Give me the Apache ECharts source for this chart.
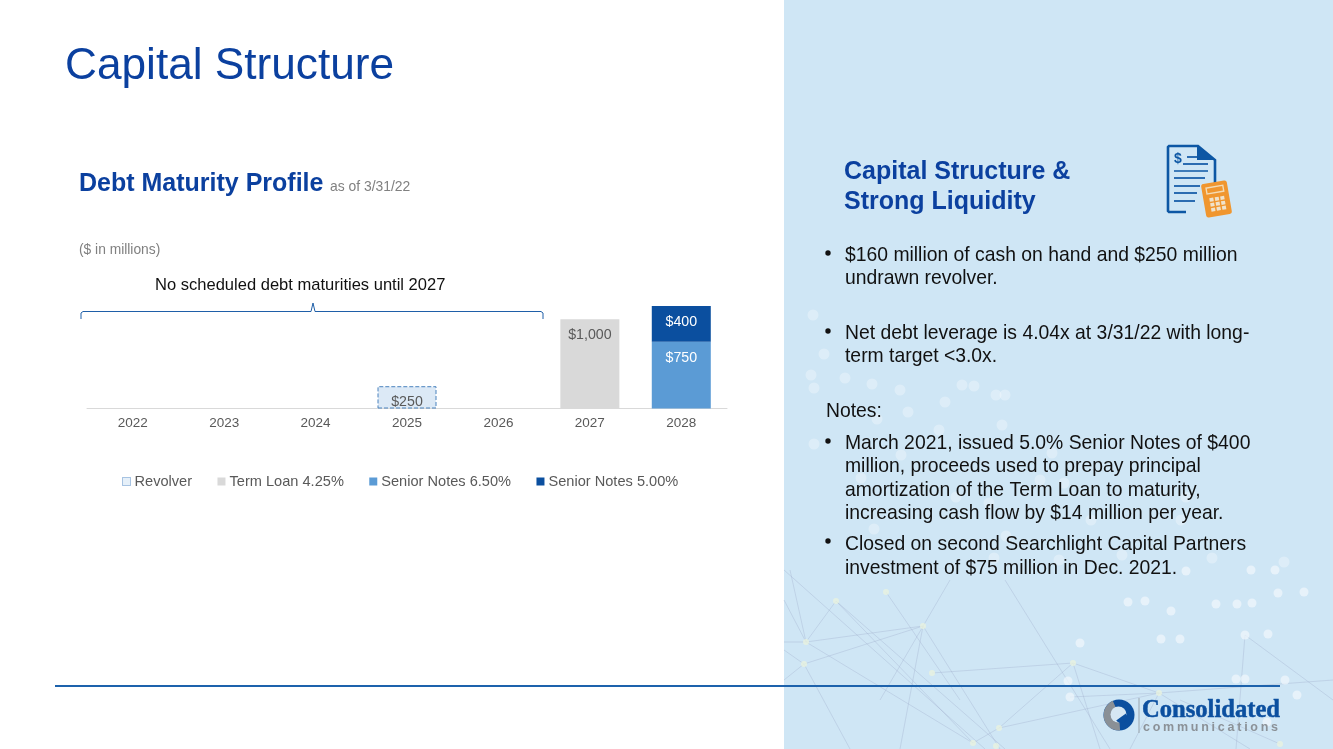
<!DOCTYPE html>
<html><head><meta charset="utf-8">
<script src="https://cdn.jsdelivr.net/npm/echarts@6/dist/echarts.min.js"></script>
<style>html,body{margin:0;padding:0;background:#fff;overflow:hidden}
#c{position:absolute;left:0;top:0;width:1333px;height:749px}
#logoSub{position:absolute;left:1143px;top:720px;font:bold 12.5px "Liberation Sans";letter-spacing:2.75px;color:#8b9197;white-space:nowrap}</style>
</head><body><div id="c"></div><div id="logoSub">communications</div>
<script>
const categories=['2022','2023','2024','2025','2026','2027','2028'];
const revolver=[null,null,null,250,null,null,null];
const termLoan=[null,null,null,null,null,1000,null];
const notes650=[null,null,null,null,null,null,750];
const notes500=[null,null,null,null,null,null,400];

const F='"Liberation Sans", Arial, sans-serif';
const BLUE='#0b409f';
const nodeDots=[[836,601],[886,592],[923,626],[806,642],[804,664],[932,673],[1073,663],[1159,693],[999,728],[973,743],[996,746],[1280,744]];
const softDots=[[1128,602],[1171,611],[1216,604],[1252,603],[1278,593],[1251,570],[1186,571],[1080,643],[1161,639],[1245,635],[1068,681],[1070,697],[1236,679],[1245,679],[1297,695],[1267,722],[1275,570],[1304,592],[1145,601],[1237,604],[1180,639],[1268,634],[1285,680]];
const faintDots=[[813,315],[824,354],[811,375],[814,388],[845,378],[872,384],[962,385],[996,395],[945,402],[908,412],[877,419],[1002,425],[939,430],[814,444],[1052,453],[901,455],[861,478],[956,497],[989,503],[1091,520],[1181,520],[1186,497],[1064,483],[874,529],[1006,536],[994,558],[1059,560],[1122,555],[1212,558],[1284,562],[1005,395],[974,386],[1040,480],[900,390]];
const netLines=[[806,642,923,626],[806,642,973,743],[804,664,923,626],[836,601,806,642],[806,642,790,570],[836,601,973,743],[836,601,1005,749],[784,570,985,749],[923,626,900,749],[923,626,1000,749],[804,664,784,680],[804,664,850,749],[806,642,784,642],[932,673,1073,663],[1073,663,999,728],[1073,663,1159,693],[1159,693,999,728],[1070,697,1159,693],[999,728,973,743],[1159,693,1250,749],[1159,693,1130,749],[1245,635,1236,749],[1159,693,1333,680],[886,592,960,700],[950,580,880,700],[1005,580,1110,749],[1245,635,1333,700],[1073,663,1100,749],[1280,744,1180,700],[784,650,804,664],[784,600,806,642]];

const deco=[];
deco.push({type:'rect',silent:true,shape:{x:784,y:0,width:549,height:749},style:{fill:'#cfe6f5'}});
netLines.forEach(l=>deco.push({type:'line',silent:true,shape:{x1:l[0],y1:l[1],x2:l[2],y2:l[3]},style:{stroke:'rgba(160,176,205,0.36)',lineWidth:1}}));
faintDots.forEach(d=>deco.push({type:'circle',silent:true,shape:{cx:d[0],cy:d[1],r:5.5},style:{fill:'rgba(255,255,255,0.3)'}}));
softDots.forEach(d=>deco.push({type:'circle',silent:true,shape:{cx:d[0],cy:d[1],r:4.5},style:{fill:'rgba(240,247,252,0.72)'}}));
nodeDots.forEach(d=>deco.push({type:'circle',silent:true,shape:{cx:d[0],cy:d[1],r:3},style:{fill:'rgba(232,243,224,0.8)'}}));

function txt(x,y,s,size,color,weight){return {type:'text',silent:true,x:x,y:y,style:{text:s,fontFamily:F,fontSize:size,fill:color,fontWeight:weight||'normal',textAlign:'left',textVerticalAlign:'middle'}};}
const B=19.35;
const texts=[
 txt(65,67,'Capital Structure',44.2,BLUE),
 txt(79,184,'Debt Maturity Profile',25,BLUE,'bold'),
 txt(330,187,'as of 3/31/22',13.9,'#808080'),
 txt(79,250,'($ in millions)',13.8,'#808080'),
 txt(155,285,'No scheduled debt maturities until 2027',16.55,'#111'),
 txt(844,172,'Capital Structure &',25,BLUE,'bold'),
 txt(844,202,'Strong Liquidity',25,BLUE,'bold'),
 txt(845,256,'$160 million of cash on hand and $250 million',B,'#111'),
 txt(845,279,'undrawn revolver.',B,'#111'),
 txt(845,334,'Net debt leverage is 4.04x at 3/31/22 with long-',B,'#111'),
 txt(845,357,'term target <3.0x.',B,'#111'),
 txt(826,412,'Notes:',B,'#111'),
 txt(845,444,'March 2021, issued 5.0% Senior Notes of $400',B,'#111'),
 txt(845,467,'million, proceeds used to prepay principal',B,'#111'),
 txt(845,491,'amortization of the Term Loan to maturity,',B,'#111'),
 txt(845,514,'increasing cash flow by $14 million per year.',B,'#111'),
 txt(845,545,'Closed on second Searchlight Capital Partners',B,'#111'),
 txt(845,569,'investment of $75 million in Dec. 2021.',B,'#111')
];
const bullets=[[828,253],[828,331],[828,441],[828,541]].map(b=>({type:'circle',silent:true,shape:{cx:b[0],cy:b[1],r:2.7},style:{fill:'#111'}}));

const brace={type:'polyline',silent:true,shape:{points:[[81,319],[81,313],[83,311.5],[311,311.5],[313,303],[315,311.5],[541,311.5],[543,313],[543,319]]},style:{stroke:'#1f5fa8',lineWidth:1,fill:'none'}};
const rule={type:'line',silent:true,shape:{x1:55,y1:686,x2:1280,y2:686},style:{stroke:'#1d62ac',lineWidth:2}};

const D='#0d57a4';
function lin(x1,y1,x2,y2,w){return {type:'line',silent:true,shape:{x1,y1,x2,y2},style:{stroke:D,lineWidth:w||1.7}};}
const CALC=0.17;
const keypad=[];
[0,1,2].forEach(c=>[0,1,2].forEach(r=>keypad.push({type:'rect',silent:true,x:1217,y:199,rotation:CALC,shape:{x:-7.5+c*5.5,y:-2+r*5,width:4,height:3.6},style:{fill:'#f0e3cc'}})));
const icon=[
 {type:'polyline',silent:true,shape:{points:[[1186,212],[1169,212],[1168,211],[1168,147],[1169,146],[1198,146],[1215,160],[1215,184]]},style:{stroke:D,lineWidth:2.6,fill:'none'}},
 {type:'polygon',silent:true,shape:{points:[[1197,146],[1215,160],[1197,160]]},style:{fill:D}},
 {type:'text',silent:true,x:1174,y:159,style:{text:'$',fontFamily:F,fontWeight:'bold',fontSize:14,fill:D,textVerticalAlign:'middle'}},
 lin(1187,157,1197,157),lin(1183,164,1208,164),lin(1174,171,1208,171),lin(1174,178,1205,178),lin(1174,186,1200,186),lin(1174,193,1197,193),lin(1174,201,1195,201),
 {type:'rect',silent:true,x:1216.5,y:199,rotation:CALC,shape:{x:-13,y:-17,width:26,height:34,r:2.5},style:{fill:'#f0962f'}},
 {type:'rect',silent:true,x:1216.5,y:199,rotation:CALC,shape:{x:-8.5,y:-12.5,width:17,height:6},style:{fill:'#f0962f',stroke:'#f3dcb6',lineWidth:1.4}}
].concat(keypad);
const logo=[
 {type:'circle',silent:true,shape:{cx:1119,cy:715,r:15.5},style:{fill:'#0b4f9f'}},
 {type:'sector',silent:true,shape:{cx:1119,cy:715,r:15.5,r0:7,startAngle:1.5,endAngle:4.3},style:{fill:'#8a9096'}},
 {type:'circle',silent:true,shape:{cx:1118.5,cy:714.5,r:8},style:{fill:'#d6e7f3'}},
 {type:'sector',silent:true,shape:{cx:1121,cy:717,r:6,startAngle:-0.6,endAngle:2.5},style:{fill:'#0b4f9f'}},
 {type:'line',silent:true,shape:{x1:1139,y1:698,x2:1139,y2:733},style:{stroke:'#9aa5ad',lineWidth:1}},
 {type:'text',silent:true,x:1142,y:711,style:{text:'Consolidated',fontFamily:'"Liberation Serif", serif',fontWeight:'bold',fontSize:24.6,fill:'#0b4f9f',stroke:'#0b4f9f',lineWidth:0.5,textVerticalAlign:'middle'}}
];

function bar(name,data,color,labelColor,extra){
 return Object.assign({type:'bar',name:name,stack:'debt',data:data,barWidth:59,silent:true,
  itemStyle:Object.assign({color:color},extra||{}),
  label:{show:true,position:'insideTop',distance:9,color:labelColor,fontFamily:F,fontSize:14.2,formatter:p=>'$'+p.value.toLocaleString('en-US')}});
}
const chart=echarts.init(document.getElementById('c'),null,{renderer:'canvas'});
chart.setOption({
 animation:false,backgroundColor:'#fff',
 grid:{left:87,right:606,top:301.5,height:107},
 legend:{left:117,top:469,itemWidth:8,itemHeight:8,itemGap:25.4,icon:'rect',selectedMode:false,
  textStyle:{fontFamily:F,fontSize:14.6,color:'#595959',padding:[0,0,0,-1]},
  data:[{name:'Revolver',itemStyle:{borderWidth:1,borderType:'dotted',borderColor:'#5b8fc9',color:'#e6f0f9'}},'Term Loan 4.25%','Senior Notes 6.50%','Senior Notes 5.00%']},
 xAxis:{type:'category',data:categories,axisLine:{lineStyle:{color:'#d9d9d9',width:1}},axisTick:{show:false},
  axisLabel:{color:'#595959',fontFamily:F,fontSize:13.5,margin:8}},
 yAxis:{type:'value',min:0,max:1200,show:false,splitLine:{show:false}},
 graphic:{elements:[].concat(deco,[rule],icon,logo,bullets,[brace],texts)},
 series:[
  bar('Revolver',revolver,'#dce9f6','#595959',{borderColor:'#4a82bd',borderWidth:1,borderType:'dashed'}),
  bar('Term Loan 4.25%',termLoan,'#d9d9d9','#595959'),
  bar('Senior Notes 6.50%',notes650,'#5b9bd5','#ffffff'),
  bar('Senior Notes 5.00%',notes500,'#0b4f9f','#ffffff')
 ]
});
</script></body></html>
